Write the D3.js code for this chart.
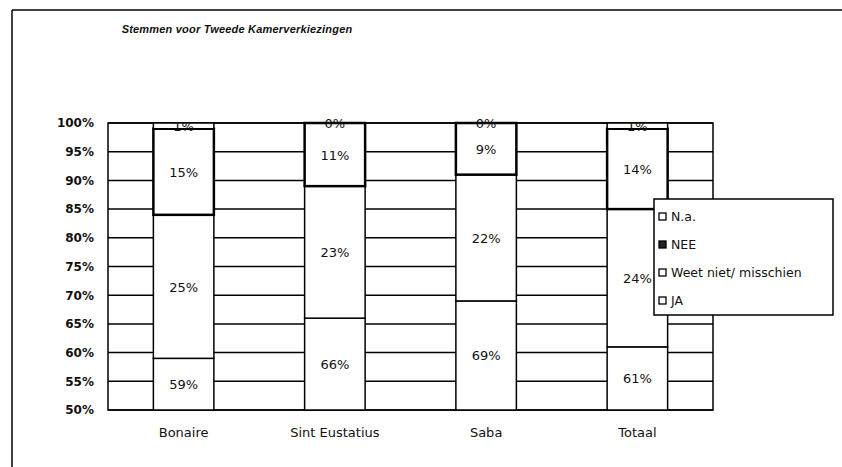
<!DOCTYPE html>
<html>
<head>
<meta charset="utf-8">
<script src="https://cdn.jsdelivr.net/npm/d3@7"></script>
<style>
  body { margin: 0; background: #fff; }
  text { font-family: "DejaVu Sans", Arial, sans-serif; fill: #111; }
</style>
</head>
<body>
<svg width="842" height="467"></svg>
<script>
var svg = d3.select("svg"),
    width = +svg.attr("width"),
    height = +svg.attr("height");

// data, in percent
var categories = ["Bonaire", "Sint Eustatius", "Saba", "Totaal"];
var series = ["JA", "Weet niet/ misschien", "NEE", "N.a."];
var ja = [59, 66, 69, 61];
var weetNiet = [25, 23, 22, 24];
var nee = [15, 11, 9, 14];
var na = [1, 0, 0, 1];
var yTicks = [50, 55, 60, 65, 70, 75, 80, 85, 90, 95, 100];

var rows = categories.map(function(c, i) {
  return { cat: c, "JA": ja[i], "Weet niet/ misschien": weetNiet[i], "NEE": nee[i], "N.a.": na[i] };
});
var stacked = d3.stack().keys(series)(rows);

var x = d3.scaleBand().domain(categories).range([108, 713]).paddingInner(0.6).paddingOuter(0.3);
var y = d3.scaleLinear().domain([50, 100]).range([410, 123]);
var lo = function(v) { return Math.max(v, 50); };  // axis starts at 50%

// outer frame (only top and left survive in the scan)
svg.append("line").attr("x1", 12).attr("x2", width).attr("y1", 10).attr("y2", 10)
    .attr("stroke", "#000").attr("stroke-width", 1.5);
svg.append("line").attr("x1", 12).attr("x2", 12).attr("y1", 10).attr("y2", height)
    .attr("stroke", "#000").attr("stroke-width", 1.5);

svg.append("text")
    .attr("x", 237).attr("y", 33)
    .attr("text-anchor", "middle")
    .style("font-family", "'Liberation Sans', Arial, sans-serif")
    .style("font-size", "11px").style("font-weight", "bold").style("font-style", "italic")
    .style("letter-spacing", "0.2px")
    .text("Stemmen voor Tweede Kamerverkiezingen");

// gridlines
svg.append("g").selectAll("line")
  .data(yTicks)
  .enter().append("line")
    .attr("x1", 108).attr("x2", 713)
    .attr("y1", function(d) { return y(d); })
    .attr("y2", function(d) { return y(d); })
    .attr("stroke", "#000").attr("stroke-width", 1.5);

// plot border
svg.append("rect")
    .attr("x", 108).attr("y", y(100))
    .attr("width", 605).attr("height", y(50) - y(100))
    .attr("fill", "none").attr("stroke", "#000").attr("stroke-width", 1.5);

// y axis labels
var yAxis = svg.append("g")
    .attr("transform", "translate(108,0)")
    .call(d3.axisLeft(y).tickValues(yTicks).tickSize(0).tickPadding(14)
      .tickFormat(function(d) { return d + "%"; }));
yAxis.select(".domain").remove();
yAxis.selectAll("text").style("font-size", "12px").style("font-weight", "bold")
    .style("font-family", "'DejaVu Sans', Arial, sans-serif").attr("fill", "#111");

// x axis labels
var xAxis = svg.append("g")
    .attr("transform", "translate(0,410)")
    .call(d3.axisBottom(x).tickSize(0).tickPadding(18));
xAxis.select(".domain").remove();
xAxis.selectAll("text").style("font-size", "13px")
    .style("font-family", "'DejaVu Sans', Arial, sans-serif").attr("fill", "#111");

// bars
var layers = svg.append("g").selectAll("g")
  .data(stacked)
  .enter().append("g");

layers.selectAll("rect")
  .data(function(s) { return s.map(function(d) { d.key = s.key; return d; }); })
  .enter().append("rect")
    .attr("x", function(d) { return x(d.data.cat); })
    .attr("width", x.bandwidth())
    .attr("y", function(d) { return y(lo(d[1])); })
    .attr("height", function(d) { return y(lo(d[0])) - y(lo(d[1])); })
    .attr("fill", "#fff")
    .attr("stroke", "#000")
    .attr("stroke-width", function(d) { return d.key == "NEE" ? 2.5 : 1.5; });

// value labels
layers.selectAll("text")
  .data(function(s) { return s; })
  .enter().append("text")
    .attr("x", function(d) { return x(d.data.cat) + x.bandwidth() / 2; })
    .attr("y", function(d) { return y((lo(d[0]) + lo(d[1])) / 2) + 5; })
    .attr("text-anchor", "middle")
    .style("font-size", "13px")
    .text(function(d) { return Math.round(d[1] - d[0]) + "%"; });

// legend
var leg = svg.append("g").attr("transform", "translate(654,199)");
leg.append("rect").attr("width", 179).attr("height", 116)
    .attr("fill", "#fff").attr("stroke", "#000").attr("stroke-width", 1.5);
var legOrder = series.slice().reverse();
var item = leg.selectAll(".item")
  .data(legOrder)
  .enter().append("g")
    .attr("transform", function(d, i) { return "translate(5," + (22 + i * 28) + ")"; });
item.append("rect")
    .attr("x", 0).attr("y", -8).attr("width", 7).attr("height", 7)
    .attr("fill", function(d) { return d == "NEE" ? "#222" : "#fff"; })
    .attr("stroke", "#000").attr("stroke-width", 1.3);
item.append("text")
    .attr("x", 12).attr("y", 0)
    .style("font-size", "12.5px")
    .text(function(d) { return d; });
</script>
</body>
</html>
